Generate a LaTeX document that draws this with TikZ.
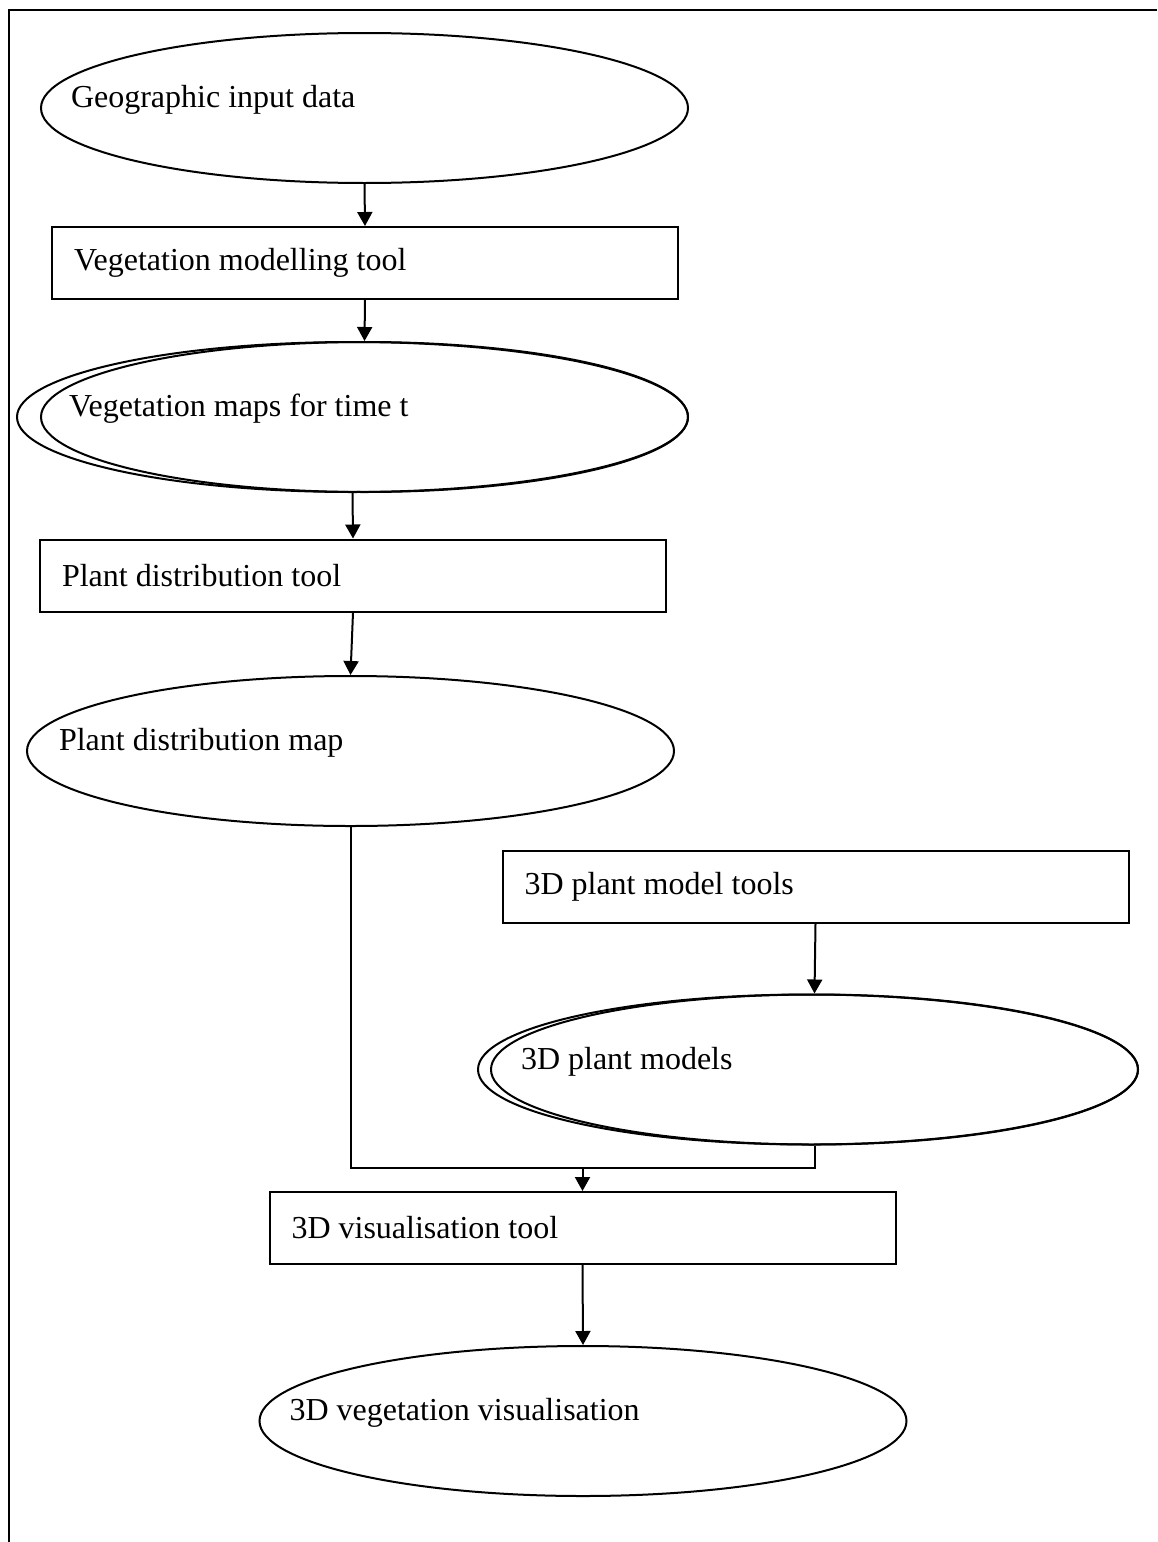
\documentclass[tikz,border=0pt]{standalone}
\usepackage{fontspec}
\setmainfont{Liberation Serif}
\usetikzlibrary{arrows.meta}
\usetikzlibrary{shapes.geometric}

\begin{document}
\begin{tikzpicture}[x=0.5pt, y=-0.5pt, line width=1pt,
	oval/.style={draw, ellipse, minimum width=323.5pt, minimum height=75pt, inner sep=0pt},
	tool/.style={draw, rectangle, minimum width=313pt, minimum height=36pt, inner sep=0pt},
	txt/.style={anchor=west, inner sep=0pt, font=\fontsize{16}{19}\selectfont},
	arr/.style={-{Triangle[width=7.5pt,length=7pt]}}]
	\useasboundingbox (0,0) rectangle (1157,1542);
	\draw (9,1542) -- (9,10) -- (1157,10);

	\node[oval] (geo) at (364.5,108) {};
	\node[txt] (geo-t) at ([xshift=15pt,yshift=4pt]geo.west) {Geographic input data};

	\node[tool] (vegtool) at (365,263) {};
	\node[txt] (vegtool-t) at ([xshift=11pt]vegtool.west) {Vegetation modelling tool};

	\node[oval, minimum width=335.5pt] (vegmaps-o) at (352.5,417) {};
	\node[oval] (vegmaps) at (364.5,417) {};
	\node[txt] (vegmaps-t) at ([xshift=14pt,yshift=4pt]vegmaps.west) {Vegetation maps for time t};

	\node[tool] (plantdist) at (353,575.5) {};
	\node[txt] (plantdist-t) at ([xshift=11pt]plantdist.west) {Plant distribution tool};

	\node[oval] (distmap) at (350.5,751) {};
	\node[txt] (distmap-t) at ([xshift=16pt,yshift=4pt]distmap.west) {Plant distribution map};

	\node[tool] (modeltools) at (815.5,887) {};
	\node[txt] (modeltools-t) at ([xshift=11pt]modeltools.west) {3D plant model tools};

	\node[oval, minimum width=330pt] (models-o) at (808,1069.5) {};
	\node[oval] (models) at (814.5,1069.5) {};
	\node[txt] (models-t) at ([xshift=15pt,yshift=4pt]models.west) {3D plant models};

	\node[tool] (vistool) at (582.5,1228) {};
	\node[txt] (vistool-t) at ([xshift=11pt]vistool.west) {3D visualisation tool};

	\node[oval] (vegvis) at (583,1421) {};
	\node[txt] (vegvis-t) at ([xshift=15pt,yshift=4pt]vegvis.west) {3D vegetation visualisation};

	\draw[arr] (geo.south) -- (vegtool.north);
	\draw[arr] (vegtool.south) -- (vegmaps.north);
	\draw[arr] (vegmaps-o.south) -- (plantdist.north);
	\draw[arr] (plantdist.south) -- (distmap.north);
	\draw[arr] (modeltools.south) -- (models.north);

	\coordinate (join) at (582.5,1168);
	\draw (distmap.south) -- (distmap.south |- join) -- (models.south |- join) -- (models.south);
	\draw[arr] (join) -- (vistool.north);
	\draw[arr] (vistool.south) -- (vegvis.north);
\end{tikzpicture}
\end{document}
